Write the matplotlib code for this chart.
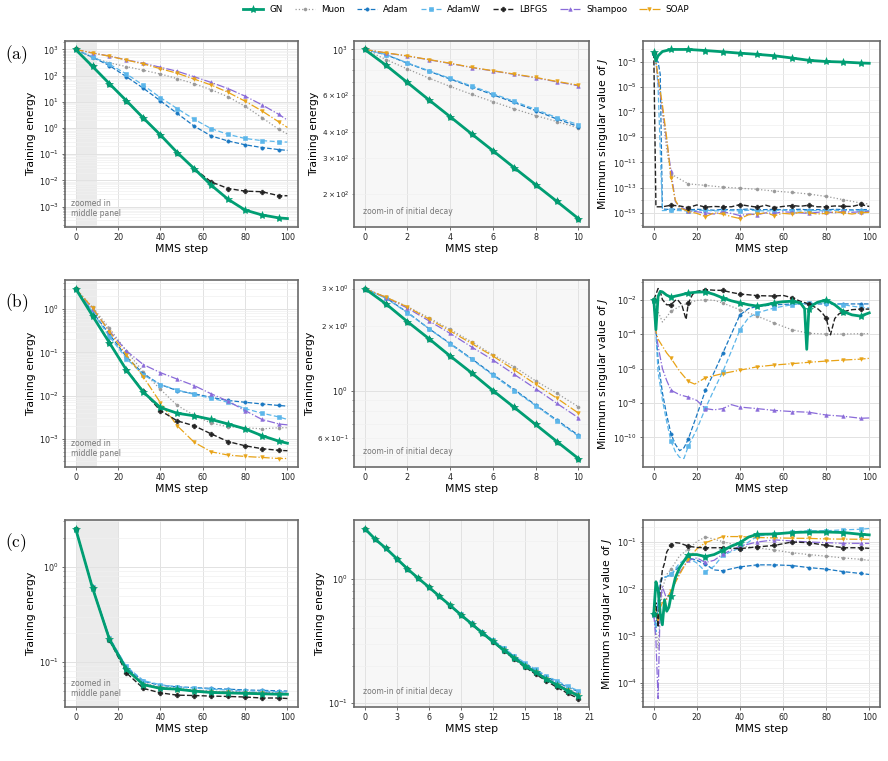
import numpy as np
import matplotlib
matplotlib.use("Agg")
import matplotlib.pyplot as plt
from matplotlib.ticker import LogLocator, MultipleLocator, NullFormatter

# ---------------- data ----------------
methods = ["GN", "Muon", "Adam", "AdamW", "LBFGS", "Shampoo", "SOAP"]

steps_left = [0, 8, 16, 24, 32, 40, 48, 56, 64, 72, 80, 88, 96, 100]
steps_mid_ab = list(range(0, 11))
steps_mid_c = list(range(0, 21))

# ---- row (a) : training energy, full run
GN_a = [1000, 225, 49, 11, 2.4, 0.55, 0.115, 0.028, 0.0066, 0.0019, 7.4e-4, 4.8e-4, 3.7e-4, 3.5e-4]
Muon_a = [1000, 480, 307, 222, 160, 116, 77, 49, 29, 15.6, 6.8, 2.5, 0.88, 0.59]
Adam_a = [1000, 505, 242, 91, 33, 11, 3.6, 1.18, 0.5, 0.32, 0.23, 0.18, 0.15, 0.14]
AdamW_a = [1000, 515, 272, 116, 43, 14.6, 5.5, 2.15, 0.95, 0.57, 0.4, 0.33, 0.30, 0.29]
LBFGS_a = [1000, 225, 49, 11, 2.4, 0.55, 0.115, 0.028, 0.0088, 0.0049, 0.0039, 0.0037, 0.0026, 0.0026]
Shampoo_a = [1000, 735, 560, 400, 298, 209, 147, 91, 55, 32, 16.5, 7.7, 3.3, 2.0]
SOAP_a = [1000, 733, 550, 395, 280, 185, 123, 74, 44, 23, 10.6, 4.5, 1.7, 1.05]

# ---- row (a) : zoom of initial decay (steps 0..10)
GN_a_mid = [1000, 839, 693, 572, 474, 392, 325, 269, 223, 185, 153]
Muon_a_mid = [1000, 894, 805, 728, 663, 608, 560, 517, 480, 449, 418]
Adam_a_mid = [1000, 943, 858, 786, 720, 660, 605, 555, 507, 462, 425]
AdamW_a_mid = [1000, 945, 861, 790, 725, 667, 612, 562, 514, 469, 434]
LBFGS_a_mid = [1000, 839, 693, 572, 474, 392, 325, 269, 223, 185, 153]
Shampoo_a_mid = [1000, 962, 929, 892, 856, 818, 788, 758, 730, 698, 668]
SOAP_a_mid = [1000, 963, 931, 894, 858, 820, 790, 761, 733, 701, 673]

# ---- row (a) : minimum singular value of J
GN_a_sv_x = [0, 1, 2, 4, 8, 16, 24, 32, 40, 48, 56, 64, 72, 80, 88, 96, 100]
GN_a_sv = [5.5e-3, 1.2e-3, 3e-3, 6.5e-3, 9.5e-3, 9.5e-3, 7.8e-3, 6.2e-3, 4.8e-3, 3.9e-3, 3e-3, 2e-3, 1.3e-3,
           1.05e-3, 9.5e-4, 8e-4, 7.6e-4]
Muon_a_sv_x = [0, 1, 2, 3, 4, 5, 6, 8, 16, 24, 32, 40, 48, 56, 64, 72, 80, 88, 96, 100]
Muon_a_sv = [5e-3, 1e-3, 1e-4, 5e-6, 1e-7, 3e-9, 1e-10, 1.2e-12, 2e-13, 1.5e-13, 1.1e-13, 9e-14, 7.3e-14,
             5.3e-14, 4.2e-14, 3.1e-14, 2e-14, 1.1e-14, 6e-15, 5e-15]
Adam_a_sv_x = [0, 1, 2, 3, 4, 8, 12, 16, 20, 24, 28, 32, 36, 40, 44, 48, 52, 56, 60, 64, 68, 72, 76, 80, 84,
               88, 92, 96, 100]
Adam_a_sv = [5e-3, 1.5e-3, 1e-3, 1e-4, 2e-15, 1.8e-15, 2e-15, 1.7e-15, 1.9e-15, 1.8e-15, 1.6e-15, 1.9e-15,
             1.7e-15, 1.8e-15, 2e-15, 1.7e-15, 1.8e-15, 1.9e-15, 1.7e-15, 1.8e-15, 1.9e-15, 1.7e-15,
             1.8e-15, 1.7e-15, 1.9e-15, 1.8e-15, 1.7e-15, 1.8e-15, 1.8e-15]
AdamW_a_sv_x = [0, 1, 2, 3, 4, 8, 12, 16, 20, 24, 28, 32, 36, 40, 44, 48, 52, 56, 60, 64, 68, 72, 76, 80, 84,
                88, 92, 96, 100]
AdamW_a_sv = [5e-3, 1.2e-3, 1e-5, 1e-10, 1.5e-15, 1.6e-15, 1.5e-15, 1.4e-15, 1.5e-15, 1.6e-15, 1.4e-15,
              1.5e-15, 1.5e-15, 1.4e-15, 1.6e-15, 1.5e-15, 1.4e-15, 1.5e-15, 1.6e-15, 1.5e-15, 1.4e-15,
              1.5e-15, 1.5e-15, 1.4e-15, 1.6e-15, 1.5e-15, 1.5e-15, 1.4e-15, 1.5e-15]
LBFGS_a_sv_x = [0, 1, 2, 4, 8, 12, 16, 20, 24, 28, 32, 36, 40, 44, 48, 52, 56, 60, 64, 68, 72, 76, 80, 84,
                88, 92, 96, 100]
LBFGS_a_sv = [5e-3, 3e-15, 3e-15, 3e-15, 4e-15, 3.5e-15, 2.6e-15, 4.2e-15, 2.8e-15, 3.2e-15, 3e-15, 3e-15,
              4.5e-15, 3.5e-15, 2.8e-15, 4e-15, 2.6e-15, 3.2e-15, 3.8e-15, 3.3e-15, 4e-15, 3e-15, 3e-15,
              3.5e-15, 3.3e-15, 3.2e-15, 4.6e-15, 3.2e-15]
Shampoo_a_sv_x = [0, 1, 2, 4, 6, 8, 10, 12, 16, 20, 24, 28, 32, 36, 40, 44, 48, 52, 56, 60, 64, 68, 72, 76,
                  80, 84, 88, 92, 96, 100]
Shampoo_a_sv = [5e-3, 1e-3, 3e-5, 2e-7, 5e-10, 2e-12, 8e-15, 3e-15, 1.5e-15, 1.2e-15, 1e-15, 8e-16, 1.2e-15,
                9e-16, 6e-16, 8e-16, 7e-16, 1e-15, 9e-16, 1.2e-15, 1.1e-15, 1e-15, 9e-16, 1.1e-15, 1.2e-15,
                1e-15, 1.3e-15, 1.1e-15, 1.2e-15, 1.3e-15]
SOAP_a_sv_x = [0, 1, 2, 4, 6, 8, 10, 12, 16, 20, 24, 28, 32, 36, 40, 44, 48, 52, 56, 60, 64, 68, 72, 76, 80,
               84, 88, 92, 96, 100]
SOAP_a_sv = [5e-3, 1e-3, 5e-5, 4e-7, 9e-10, 6e-13, 1e-14, 2.5e-15, 1.3e-15, 9e-16, 5e-16, 1e-15, 8e-16,
             5e-16, 3.5e-16, 7e-16, 8e-16, 1e-15, 6e-16, 9e-16, 8e-16, 1.1e-15, 1e-15, 8e-16, 9e-16,
             1.2e-15, 1e-15, 8e-16, 1e-15, 1.1e-15]

# ---- row (b) : training energy, full run
GN_b = [3.0, 0.70, 0.166, 0.039, 0.012, 5.3e-3, 3.9e-3, 3.4e-3, 2.8e-3, 2.2e-3, 1.7e-3, 1.18e-3, 8.8e-4, 7.9e-4]
Muon_b = [3.0, 1.11, 0.36, 0.108, 0.035, 0.014, 5.9e-3, 3.5e-3, 2.3e-3, 1.9e-3, 1.8e-3, 1.7e-3, 1.8e-3, 1.8e-3]
Adam_b = [3.0, 0.86, 0.26, 0.079, 0.032, 0.018, 0.013, 0.011, 9.1e-3, 7.7e-3, 7.0e-3, 6.4e-3, 5.9e-3, 5.7e-3]
AdamW_b = [3.0, 0.85, 0.23, 0.072, 0.030, 0.018, 0.0135, 0.0106, 8.7e-3, 7.0e-3, 5.0e-3, 3.9e-3, 3.2e-3, 2.8e-3]
LBFGS_b = [3.0, 0.70, 0.166, 0.040, 0.0125, 4.5e-3, 2.6e-3, 2.0e-3, 1.3e-3, 8.6e-4, 6.9e-4, 5.9e-4, 5.4e-4, 5.3e-4]
Shampoo_b = [3.0, 1.02, 0.31, 0.108, 0.052, 0.034, 0.024, 0.017, 0.011, 7.4e-3, 4.5e-3, 2.8e-3, 2.2e-3, 2.1e-3]
SOAP_b = [3.0, 1.07, 0.30, 0.087, 0.027, 6.9e-3, 2.0e-3, 8.3e-4, 5.0e-4, 4.2e-4, 3.9e-4, 3.7e-4, 3.5e-4, 3.5e-4]

# ---- row (b) : zoom (steps 0..10)
GN_b_mid = [3.0, 2.54, 2.1, 1.75, 1.45, 1.21, 1.0, 0.834, 0.694, 0.577, 0.481]
Muon_b_mid = [3.0, 2.73, 2.47, 2.19, 1.93, 1.69, 1.47, 1.29, 1.11, 0.97, 0.84]
Adam_b_mid = [3.0, 2.71, 2.32, 1.95, 1.66, 1.41, 1.19, 1.01, 0.856, 0.727, 0.618]
AdamW_b_mid = [3.0, 2.70, 2.31, 1.95, 1.65, 1.40, 1.18, 1.00, 0.85, 0.72, 0.612]
LBFGS_b_mid = [3.0, 2.54, 2.1, 1.75, 1.45, 1.21, 1.0, 0.834, 0.694, 0.577, 0.481]
Shampoo_b_mid = [3.0, 2.72, 2.43, 2.12, 1.85, 1.60, 1.39, 1.19, 1.02, 0.87, 0.746]
SOAP_b_mid = [3.0, 2.73, 2.46, 2.16, 1.90, 1.66, 1.45, 1.25, 1.07, 0.92, 0.785]

# ---- row (b) : minimum singular value of J
GN_b_sv_x = [0, 1, 2, 3, 4, 6, 8, 12, 16, 20, 24, 28, 32, 36, 40, 44, 48, 52, 56, 60, 64, 68, 70, 71, 72, 74,
             76, 80, 84, 88, 92, 96, 100]
GN_b_sv = [1e-2, 1.8e-4, 1.5e-2, 3e-2, 2.8e-2, 1.8e-2, 1.4e-2, 1.8e-2, 2.4e-2, 2.7e-2, 2.8e-2, 2e-2, 1.25e-2,
           8.5e-3, 6.4e-3, 5e-3, 4.2e-3, 5e-3, 6.4e-3, 7.5e-3, 8e-3, 6.5e-3, 3e-3, 1.3e-5, 3e-3, 5e-3,
           7e-3, 9.5e-3, 5e-3, 2e-3, 1.3e-3, 1.1e-3, 1.7e-3]
Muon_b_sv_x = [0, 2, 4, 6, 8, 12, 16, 20, 24, 28, 32, 36, 40, 48, 56, 64, 72, 80, 88, 96, 100]
Muon_b_sv = [1e-2, 2e-3, 5e-4, 1e-3, 2.1e-3, 4e-3, 6.4e-3, 9e-3, 1e-2, 9e-3, 6.4e-3, 4e-3, 2.6e-3, 1.1e-3,
             4.3e-4, 1.8e-4, 1.1e-4, 1e-4, 1e-4, 1.05e-4, 1.05e-4]
Adam_b_sv_x = [0, 1, 2, 4, 6, 8, 10, 12, 14, 16, 20, 24, 28, 32, 36, 40, 44, 48, 56, 64, 72, 80, 88, 96, 100]
Adam_b_sv = [1e-2, 2e-4, 3e-6, 4e-8, 2e-9, 1.6e-10, 4e-11, 1.7e-11, 2.5e-11, 8e-11, 2e-9, 5.5e-8, 6e-7,
             7.6e-6, 1e-4, 1.3e-3, 3e-3, 4e-3, 5e-3, 5.5e-3, 5.6e-3, 5.6e-3, 5.6e-3, 5.6e-3, 5.6e-3]
AdamW_b_sv_x = [0, 1, 2, 3, 4, 6, 8, 10, 12, 14, 16, 20, 24, 28, 32, 36, 40, 44, 48, 56, 64, 72, 80, 88, 96, 100]
AdamW_b_sv = [1e-2, 1e-4, 6e-7, 1e-7, 1.5e-8, 8e-10, 6e-11, 1.5e-11, 7e-12, 6e-12, 3e-11, 3e-10, 5e-9, 6e-8,
              6.5e-7, 1e-5, 1.8e-4, 9e-4, 1.7e-3, 3.3e-3, 5e-3, 6.4e-3, 6.4e-3, 5e-3, 3.5e-3, 3.3e-3]
LBFGS_b_sv_x = [0, 1, 2, 3, 4, 6, 8, 10, 11, 13, 15, 16, 18, 20, 24, 28, 32, 36, 40, 44, 48, 52, 56, 60, 64,
                68, 72, 76, 78, 80, 82, 84, 86, 88, 92, 96, 100]
LBFGS_b_sv = [1e-2, 2e-2, 4.4e-2, 3e-2, 1e-2, 5e-3, 5e-3, 9e-3, 1e-2, 5e-3, 7e-4, 6e-3, 2e-2, 3e-2, 3.8e-2,
              3.5e-2, 3.4e-2, 2.6e-2, 2.1e-2, 1.9e-2, 1.7e-2, 1.65e-2, 1.6e-2, 1.75e-2, 1.3e-2, 8e-3, 5.6e-3,
              3e-3, 1.8e-3, 8.5e-4, 9e-5, 8e-4, 1.5e-3, 2e-3, 2.6e-3, 2.8e-3, 2.8e-3]
Shampoo_b_sv_x = [0, 1, 2, 4, 6, 8, 12, 16, 20, 24, 28, 32, 36, 40, 48, 56, 64, 72, 80, 88, 96, 100]
Shampoo_b_sv = [1e-2, 1.4e-4, 2e-5, 1e-6, 2e-7, 5.5e-8, 3e-8, 2.2e-8, 1.4e-8, 4.7e-9, 4e-9, 4.7e-9, 8e-9,
                5.8e-9, 4.7e-9, 3.7e-9, 3.2e-9, 2.9e-9, 2e-9, 1.7e-9, 1.3e-9, 1.35e-9]
SOAP_b_sv_x = [0, 1, 2, 4, 6, 8, 12, 16, 19, 24, 32, 40, 48, 56, 64, 72, 80, 88, 96, 100]
SOAP_b_sv = [1e-2, 1.4e-4, 5e-5, 2e-5, 8e-6, 3.9e-6, 7e-7, 1.8e-7, 1.25e-7, 2.9e-7, 5.1e-7, 8e-7, 1.26e-6,
             1.6e-6, 1.9e-6, 2.3e-6, 2.7e-6, 3.1e-6, 3.5e-6, 3.9e-6]

# ---- row (c) : training energy, full run
GN_c = [2.53, 0.60, 0.173, 0.084, 0.058, 0.053, 0.052, 0.0496, 0.048, 0.0475, 0.047, 0.0465, 0.046, 0.046]
Muon_c = [2.53, 0.60, 0.175, 0.086, 0.060, 0.055, 0.053, 0.051, 0.0495, 0.049, 0.0485, 0.048, 0.0475, 0.0475]
Adam_c = [2.53, 0.61, 0.180, 0.088, 0.063, 0.057, 0.055, 0.054, 0.053, 0.052, 0.051, 0.0505, 0.050, 0.0497]
AdamW_c = [2.53, 0.61, 0.180, 0.090, 0.064, 0.058, 0.055, 0.0535, 0.052, 0.051, 0.050, 0.0495, 0.049, 0.0485]
LBFGS_c = [2.53, 0.60, 0.170, 0.077, 0.053, 0.0476, 0.045, 0.0446, 0.044, 0.0436, 0.043, 0.042, 0.042, 0.0415]
Shampoo_c = [2.53, 0.60, 0.175, 0.085, 0.059, 0.054, 0.052, 0.0505, 0.049, 0.0485, 0.048, 0.0475, 0.047, 0.047]
SOAP_c = [2.53, 0.60, 0.174, 0.083, 0.057, 0.0535, 0.0515, 0.050, 0.049, 0.048, 0.0475, 0.047, 0.0465, 0.0465]

# ---- row (c) : zoom (steps 0..20)
GN_c_mid = [2.53, 2.07, 1.75, 1.45, 1.20, 1.01, 0.857, 0.721, 0.61, 0.513, 0.434, 0.367, 0.313, 0.268,
            0.231, 0.200, 0.177, 0.156, 0.140, 0.126, 0.115]
Muon_c_mid = [2.53, 2.07, 1.75, 1.45, 1.20, 1.01, 0.857, 0.721, 0.61, 0.514, 0.435, 0.368, 0.315, 0.270,
              0.233, 0.203, 0.180, 0.159, 0.143, 0.129, 0.118]
Adam_c_mid = [2.53, 2.07, 1.75, 1.45, 1.20, 1.01, 0.858, 0.722, 0.612, 0.516, 0.438, 0.372, 0.320, 0.275,
              0.238, 0.208, 0.184, 0.163, 0.148, 0.134, 0.124]
AdamW_c_mid = [2.53, 2.07, 1.75, 1.45, 1.20, 1.01, 0.858, 0.723, 0.613, 0.517, 0.440, 0.374, 0.322, 0.278,
               0.241, 0.211, 0.187, 0.166, 0.151, 0.137, 0.126]
LBFGS_c_mid = [2.53, 2.07, 1.75, 1.45, 1.20, 1.01, 0.856, 0.720, 0.608, 0.511, 0.431, 0.365, 0.310, 0.264,
               0.226, 0.195, 0.171, 0.151, 0.134, 0.120, 0.109]
Shampoo_c_mid = [2.53, 2.07, 1.75, 1.45, 1.20, 1.01, 0.857, 0.721, 0.611, 0.514, 0.436, 0.369, 0.315, 0.270,
                 0.233, 0.202, 0.179, 0.158, 0.142, 0.128, 0.117]
SOAP_c_mid = [2.53, 2.07, 1.75, 1.45, 1.20, 1.01, 0.857, 0.721, 0.61, 0.513, 0.434, 0.367, 0.313, 0.268,
              0.231, 0.200, 0.177, 0.156, 0.141, 0.127, 0.116]

# ---- row (c) : minimum singular value of J
GN_c_sv_x = [0, 1, 2, 3, 4, 5, 6, 7, 8, 10, 12, 16, 20, 24, 28, 32, 36, 40, 44, 48, 56, 64, 72, 80, 88, 96, 100]
GN_c_sv = [2.9e-3, 1.4e-2, 9.5e-3, 3e-3, 1.7e-3, 5.8e-3, 3.3e-3, 4e-3, 6.9e-3, 1.7e-2, 2.8e-2, 5.3e-2, 5.3e-2,
           4.8e-2, 5.3e-2, 6.5e-2, 8e-2, 9.5e-2, 1.25e-1, 1.43e-1, 1.45e-1, 1.56e-1, 1.6e-1, 1.6e-1,
           1.56e-1, 1.43e-1, 1.39e-1]
Muon_c_sv_x = [0, 1, 2, 3, 4, 6, 8, 12, 16, 20, 24, 32, 40, 48, 56, 64, 72, 80, 88, 96, 100]
Muon_c_sv = [2.9e-3, 1.5e-3, 5e-4, 3e-3, 1e-2, 2e-2, 2.6e-2, 5e-2, 6.9e-2, 1e-1, 1.26e-1, 1e-1, 8e-2, 7.4e-2,
             6.6e-2, 5.8e-2, 5.3e-2, 4.9e-2, 4.5e-2, 4.2e-2, 4e-2]
Adam_c_sv_x = [0, 1, 2, 3, 4, 6, 8, 12, 16, 20, 24, 28, 32, 40, 48, 56, 64, 72, 80, 88, 96, 100]
Adam_c_sv = [2.9e-3, 1.5e-3, 5e-3, 1.2e-2, 1.7e-2, 1.8e-2, 2e-2, 3e-2, 4.5e-2, 4e-2, 3.3e-2, 2.5e-2, 2.4e-2,
             2.9e-2, 3.2e-2, 3.2e-2, 3.1e-2, 2.8e-2, 2.6e-2, 2.3e-2, 2.1e-2, 2e-2]
AdamW_c_sv_x = [0, 1, 2, 3, 4, 6, 8, 12, 16, 20, 24, 28, 32, 40, 48, 56, 64, 72, 80, 88, 96, 100]
AdamW_c_sv = [2.9e-3, 1.2e-3, 6e-3, 1.5e-2, 1.7e-2, 1.8e-2, 2e-2, 3.5e-2, 4.5e-2, 3.5e-2, 2.3e-2, 3e-2, 5.1e-2,
              7.4e-2, 1.3e-1, 1.48e-1, 1.6e-1, 1.7e-1, 1.7e-1, 1.78e-1, 1.83e-1, 1.9e-1]
LBFGS_c_sv_x = [0, 1, 2, 3, 4, 5, 6, 8, 10, 12, 16, 20, 24, 32, 40, 48, 56, 64, 72, 80, 88, 96, 100]
LBFGS_c_sv = [2.9e-3, 5e-3, 1.5e-3, 1e-2, 2.5e-2, 3.5e-2, 6e-2, 8.5e-2, 9.5e-2, 9.3e-2, 8e-2, 7.5e-2, 7.4e-2,
              7.4e-2, 7.1e-2, 7.7e-2, 8.3e-2, 9.8e-2, 9.5e-2, 8.3e-2, 7.4e-2, 7.4e-2, 7.2e-2]
Shampoo_c_sv_x = [0, 1, 2, 3, 4, 6, 8, 12, 16, 20, 24, 28, 32, 40, 48, 56, 64, 72, 80, 88, 96, 100]
Shampoo_c_sv = [2.9e-3, 8e-4, 4.6e-5, 5e-3, 1.1e-2, 6e-3, 8.7e-3, 2.2e-2, 4e-2, 4.5e-2, 3.6e-2, 4e-2, 5.4e-2,
                8e-2, 9.8e-2, 1.09e-1, 1.03e-1, 9.8e-2, 9.5e-2, 9.2e-2, 9.2e-2, 9.2e-2]
SOAP_c_sv_x = [0, 1, 2, 3, 4, 6, 8, 12, 16, 20, 24, 32, 40, 48, 56, 64, 72, 80, 88, 96, 100]
SOAP_c_sv = [2.9e-3, 4e-3, 1.8e-3, 4e-3, 5e-3, 6e-3, 9e-3, 2e-2, 4.3e-2, 7e-2, 9.5e-2, 1.28e-1, 1.28e-1,
             1.22e-1, 1.2e-1, 1.18e-1, 1.17e-1, 1.14e-1, 1.13e-1, 1.12e-1, 1.12e-1]

# ---------------- styles ----------------
styles = {
    "GN": dict(color="#009E73", ls="-", lw=2.0, marker="*", ms=6, zorder=10),
    "Muon": dict(color="#9a9a9a", ls=":", lw=0.9, marker="o", ms=2.2, zorder=3),
    "Adam": dict(color="#1a78c2", ls="--", lw=0.9, marker="o", ms=2.4, zorder=4),
    "AdamW": dict(color="#5cb6ea", ls=(0, (4, 2)), lw=0.9, marker="s", ms=2.2, zorder=4),
    "LBFGS": dict(color="#222222", ls="--", lw=1.0, marker="P", ms=3.4, zorder=5),
    "Shampoo": dict(color="#8a6bd9", ls="-.", lw=0.9, marker="^", ms=2.6, zorder=4),
    "SOAP": dict(color="#e8a317", ls="-.", lw=0.9, marker="v", ms=2.6, zorder=4),
}

rows = [
    dict(label="(a)", shade=10, mid_steps=steps_mid_ab, mid_xticks=2,
         left=[GN_a, Muon_a, Adam_a, AdamW_a, LBFGS_a, Shampoo_a, SOAP_a],
         mid=[GN_a_mid, Muon_a_mid, Adam_a_mid, AdamW_a_mid, LBFGS_a_mid, Shampoo_a_mid, SOAP_a_mid],
         sv=[(GN_a_sv_x, GN_a_sv), (Muon_a_sv_x, Muon_a_sv), (Adam_a_sv_x, Adam_a_sv),
             (AdamW_a_sv_x, AdamW_a_sv), (LBFGS_a_sv_x, LBFGS_a_sv), (Shampoo_a_sv_x, Shampoo_a_sv),
             (SOAP_a_sv_x, SOAP_a_sv)],
         sv_ticks=[1e-3, 1e-5, 1e-7, 1e-9, 1e-11, 1e-13, 1e-15], sv_dense_minor=False),
    dict(label="(b)", shade=10, mid_steps=steps_mid_ab, mid_xticks=2,
         left=[GN_b, Muon_b, Adam_b, AdamW_b, LBFGS_b, Shampoo_b, SOAP_b],
         mid=[GN_b_mid, Muon_b_mid, Adam_b_mid, AdamW_b_mid, LBFGS_b_mid, Shampoo_b_mid, SOAP_b_mid],
         sv=[(GN_b_sv_x, GN_b_sv), (Muon_b_sv_x, Muon_b_sv), (Adam_b_sv_x, Adam_b_sv),
             (AdamW_b_sv_x, AdamW_b_sv), (LBFGS_b_sv_x, LBFGS_b_sv), (Shampoo_b_sv_x, Shampoo_b_sv),
             (SOAP_b_sv_x, SOAP_b_sv)],
         sv_ticks=[1e-2, 1e-4, 1e-6, 1e-8, 1e-10], sv_dense_minor=False),
    dict(label="(c)", shade=20, mid_steps=steps_mid_c, mid_xticks=3,
         left=[GN_c, Muon_c, Adam_c, AdamW_c, LBFGS_c, Shampoo_c, SOAP_c],
         mid=[GN_c_mid, Muon_c_mid, Adam_c_mid, AdamW_c_mid, LBFGS_c_mid, Shampoo_c_mid, SOAP_c_mid],
         sv=[(GN_c_sv_x, GN_c_sv), (Muon_c_sv_x, Muon_c_sv), (Adam_c_sv_x, Adam_c_sv),
             (AdamW_c_sv_x, AdamW_c_sv), (LBFGS_c_sv_x, LBFGS_c_sv), (Shampoo_c_sv_x, Shampoo_c_sv),
             (SOAP_c_sv_x, SOAP_c_sv)],
         sv_ticks=[1e-1, 1e-2, 1e-3, 1e-4], sv_dense_minor=True),
]

# ---------------- figure ----------------
W, H = 888, 761
fig = plt.figure(figsize=(W / 100, H / 100), dpi=100)

col_px = [(65, 298), (354, 589), (643, 880)]
row_px = [(41, 227), (280, 467), (520, 707)]
letter_y = [55, 303, 543]

SPINE = "#6a6a6a"
TICK_FS = 5.8
LABEL_FS = 7.8


def style_axes(ax, bg="white"):
    ax.set_facecolor(bg)
    for s in ax.spines.values():
        s.set_color(SPINE)
        s.set_linewidth(1.2)
    ax.tick_params(axis="both", which="major", labelsize=TICK_FS, length=2.5, pad=2,
                   color=SPINE, width=0.7, labelcolor="#222222")
    ax.tick_params(axis="both", which="minor", length=1.5, pad=2, color=SPINE, width=0.5,
                   labelcolor="#222222")
    ax.grid(True, which="major", color="#e2e2e2", lw=0.7, zorder=0)
    ax.grid(True, which="minor", axis="y", color="#f0f0f0", lw=0.5, zorder=0)
    ax.set_axisbelow(True)


def mark_mask(xs):
    return [(x % 8 == 0) and x <= 96 for x in xs]


def make_ax(r, c):
    x0, x1 = col_px[c]
    y0, y1 = row_px[r]
    return fig.add_axes([x0 / W, 1 - y1 / H, (x1 - x0) / W, (y1 - y0) / H])


handles = []
for r, row in enumerate(rows):
    # left panel
    ax = make_ax(r, 0)
    style_axes(ax)
    ax.axvspan(0, row["shade"], color="#ebebeb", zorder=0.5, lw=0)
    for name, vals in zip(methods, row["left"]):
        st = styles[name]
        ln, = ax.plot(steps_left, vals, label=name, markevery=mark_mask(steps_left),
                      markeredgewidth=0.4, **st)
        if r == 0:
            handles.append(ln)
    ax.set_yscale("log")
    ax.yaxis.set_major_locator(LogLocator(base=10, numticks=20))
    ax.set_xticks([0, 20, 40, 60, 80, 100])
    ax.set_xlabel("MMS step", fontsize=LABEL_FS, labelpad=1)
    ax.set_ylabel("Training energy", fontsize=LABEL_FS, labelpad=2)
    ax.text(0.025, 0.05, "zoomed in\nmiddle panel", transform=ax.transAxes, fontsize=5.5,
            color="#777777", ha="left", va="bottom", linespacing=1.15, zorder=20)
    fig.text(5 / W, 1 - letter_y[r] / H, r"$\mathrm{" + row["label"] + "}$", fontsize=12.5,
             math_fontfamily="cm", ha="left", va="center")

    # middle panel
    ax = make_ax(r, 1)
    style_axes(ax, bg="#f7f7f7")
    for name, vals in zip(methods, row["mid"]):
        st = styles[name]
        ax.plot(row["mid_steps"], vals, markeredgewidth=0.4, **st)
    ax.set_yscale("log")
    ax.xaxis.set_major_locator(MultipleLocator(row["mid_xticks"]))
    ax.set_xlabel("MMS step", fontsize=LABEL_FS, labelpad=1)
    ax.set_ylabel("Training energy", fontsize=LABEL_FS, labelpad=2)
    ax.tick_params(axis="y", which="minor", labelsize=TICK_FS - 0.6)
    ax.text(0.04, 0.06, "zoom-in of initial decay", transform=ax.transAxes, fontsize=5.5,
            color="#777777", ha="left", va="bottom", zorder=20)

    # right panel
    ax = make_ax(r, 2)
    style_axes(ax)
    for name, (xs, vals) in zip(methods, row["sv"]):
        st = styles[name]
        ax.plot(xs, vals, markevery=mark_mask(xs), markeredgewidth=0.4, **st)
    ax.set_yscale("log")
    ax.set_yticks(row["sv_ticks"])
    if row["sv_dense_minor"]:
        ax.yaxis.set_minor_locator(LogLocator(base=10, subs=np.arange(2, 10), numticks=40))
    else:
        ax.yaxis.set_minor_locator(LogLocator(base=10, subs=[1.0], numticks=40))
    ax.yaxis.set_minor_formatter(NullFormatter())
    ax.set_xticks([0, 20, 40, 60, 80, 100])
    ax.set_xlabel("MMS step", fontsize=LABEL_FS, labelpad=1)
    ax.set_ylabel(r"Minimum singular value of $J$", fontsize=LABEL_FS, labelpad=2)

fig.legend(handles=handles, labels=methods, loc="upper center", ncol=7, frameon=False,
           bbox_to_anchor=(466 / W, 1.004), fontsize=6.3, handlelength=2.3, columnspacing=1.4,
           handletextpad=0.7)

fig.savefig("out.png", dpi=100)
